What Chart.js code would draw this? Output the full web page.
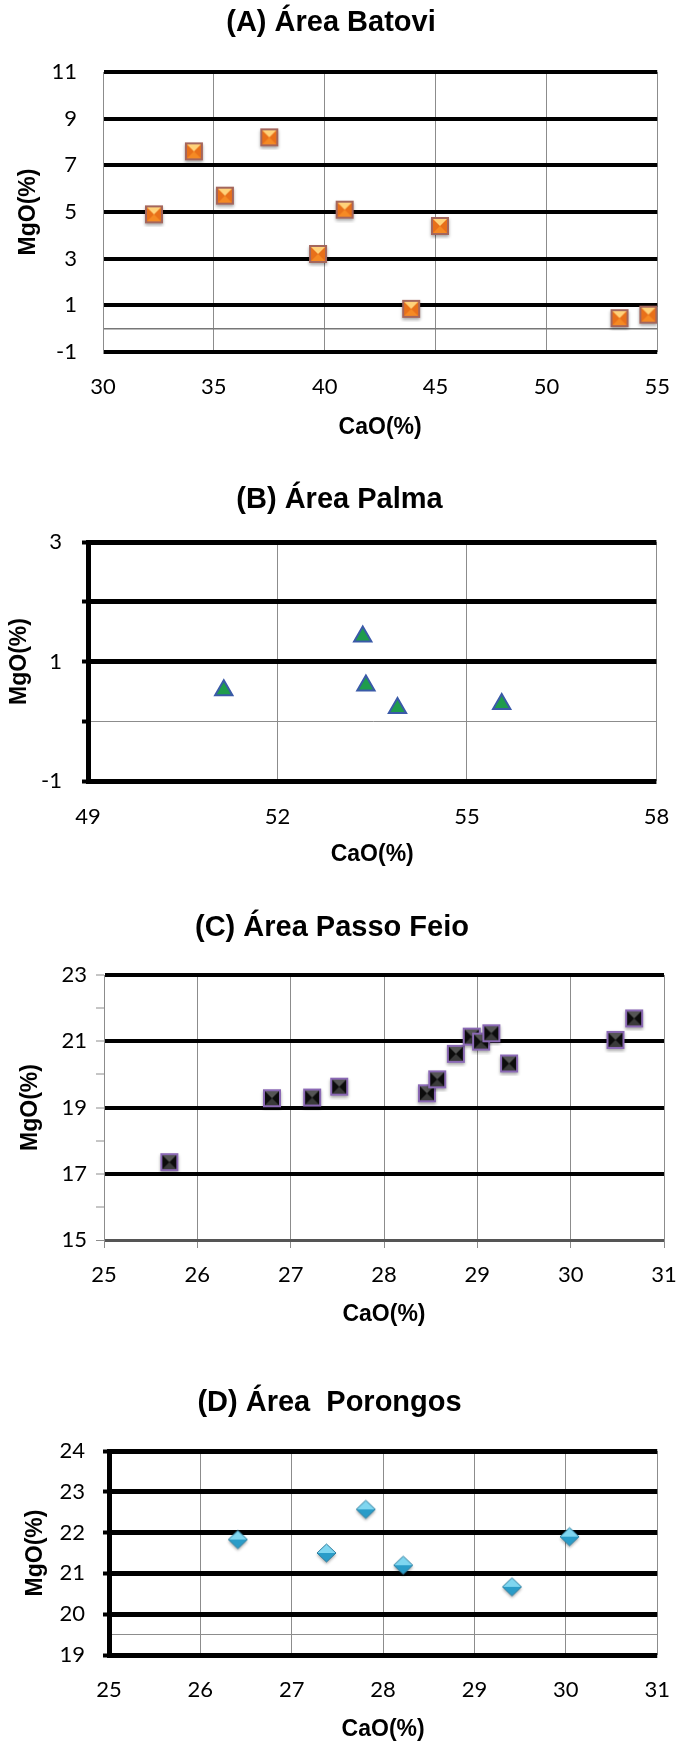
<!DOCTYPE html>
<html>
<head>
<meta charset="utf-8">
<script src="https://cdn.jsdelivr.net/npm/chart.js@4.4.0/dist/chart.umd.min.js"></script>
<style>
  body { margin: 0; background: #fff; width: 692px; height: 1747px; position: relative; overflow: hidden; }
  .box { position: absolute; left: 0; width: 692px; }
</style>
</head>
<body>
<div class="box" style="top:0;height:445px"><canvas id="chartA"></canvas></div>
<div class="box" style="top:445px;height:425px"><canvas id="chartB"></canvas></div>
<div class="box" style="top:870px;height:460px"><canvas id="chartC"></canvas></div>
<div class="box" style="top:1330px;height:417px"><canvas id="chartD"></canvas></div>
<script>
// (A) Área Batovi
const batoviCaO = [32.3, 34.1, 35.5, 37.5, 39.7, 40.9, 43.9, 45.2, 53.3, 54.6];
const batoviMgO = [4.9, 7.6, 5.7, 8.2, 3.2, 5.1, 0.85, 4.4, 0.45, 0.6];
const batoviXTicks = [30, 35, 40, 45, 50, 55];
const batoviYTicks = [-1, 0, 1, 3, 5, 7, 9, 11];
const batoviYLabels = [-1, 1, 3, 5, 7, 9, 11];

// (B) Área Palma
const palmaCaO = [51.15, 53.35, 53.4, 53.9, 55.55];
const palmaMgO = [0.52, 1.42, 0.6, 0.22, 0.29];
const palmaXTicks = [49, 52, 55, 58];
const palmaYTicks = [-1, 0, 1, 2, 3];
const palmaYLabels = [-1, 1, 3];

// (C) Área Passo Feio
const passoCaO = [25.7, 26.8, 27.23, 27.52, 28.46, 28.57, 28.77, 28.94, 29.04, 29.15, 29.34, 30.48, 30.68];
const passoMgO = [17.35, 19.28, 19.3, 19.63, 19.43, 19.85, 20.62, 21.14, 20.99, 21.24, 20.33, 21.04, 21.69];
const passoXTicks = [25, 26, 27, 28, 29, 30, 31];
const passoYTicks = [15, 16, 17, 18, 19, 20, 21, 22, 23];
const passoYLabels = [15, 17, 19, 21, 23];

// (D) Área Porongos
const porongosCaO = [26.41, 27.38, 27.81, 28.22, 29.41, 30.04];
const porongosMgO = [21.83, 21.5, 22.57, 21.2, 20.67, 21.9];
const porongosXTicks = [25, 26, 27, 28, 29, 30, 31];
const porongosYTicks = [19, 19.5, 20, 21, 22, 23, 24];
const porongosYLabels = [19, 20, 21, 22, 23, 24];

const FONT_TICK = { family: 'Lato, "Liberation Sans", sans-serif', size: 22 };
const FONT_AXIS = { family: '"Liberation Sans", Arial, sans-serif', size: 23, weight: 'bold' };
const FONT_TITLE = { family: '"Liberation Sans", Arial, sans-serif', size: 29, weight: 'bold' };
const GRAY = '#8c8c8c';
const PAD = 4; // room round each marker for its soft shadow

function shadowed(g) {
  g.shadowColor = 'rgba(0,0,0,0.35)';
  g.shadowBlur = 3;
  g.shadowOffsetY = 2;
}

// bevelled square marker like the Excel preset
function squareMarker(size, edge, top, side, bottom) {
  const c = document.createElement('canvas');
  c.width = c.height = size + 2 * PAD;
  const g = c.getContext('2d');
  g.translate(PAD, PAD);
  const b = 2, m = size / 2;
  g.save();
  shadowed(g);
  g.fillStyle = edge;
  g.fillRect(0, 0, size, size);
  g.restore();
  g.fillStyle = side;
  g.fillRect(b, b, size - 2 * b, size - 2 * b);
  g.fillStyle = top;
  g.beginPath(); g.moveTo(b, b); g.lineTo(size - b, b); g.lineTo(m, m); g.closePath(); g.fill();
  g.fillStyle = bottom;
  g.beginPath(); g.moveTo(b, size - b); g.lineTo(size - b, size - b); g.lineTo(m, m); g.closePath(); g.fill();
  return c;
}

function diamondMarker(w, h, edge, light, dark) {
  const c = document.createElement('canvas');
  c.width = w + 2 * PAD; c.height = h + 2 * PAD;
  const g = c.getContext('2d');
  g.translate(PAD, PAD);
  const grad = g.createLinearGradient(0, 0, 0, h);
  grad.addColorStop(0, light);
  grad.addColorStop(0.5, light);
  grad.addColorStop(0.5, dark);
  grad.addColorStop(1, dark);
  g.beginPath();
  g.moveTo(w / 2, 1); g.lineTo(w - 1, h / 2); g.lineTo(w / 2, h - 1); g.lineTo(1, h / 2); g.closePath();
  g.save();
  shadowed(g);
  g.fillStyle = grad; g.fill();
  g.restore();
  g.strokeStyle = edge; g.lineWidth = 1; g.stroke();
  return c;
}

function scatter(id, o) {
  return new Chart(document.getElementById(id), {
    type: 'scatter',
    data: {
      datasets: [{
        data: o.xs.map((x, i) => ({ x: x, y: o.ys[i] })),
        pointStyle: o.marker,
        pointRadius: o.radius,
        pointHoverRadius: o.radius,
        backgroundColor: o.fill || '#000',
        borderColor: o.border || '#000',
        borderWidth: o.bw || 0
      }]
    },
    options: {
      responsive: true,
      maintainAspectRatio: false,
      animation: false,
      events: [],
      layout: { autoPadding: false, padding: { left: 0, right: o.padRight, top: 0, bottom: 0 } },
      plugins: {
        legend: { display: false },
        tooltip: { enabled: false },
        title: {
          display: true, text: o.title, color: '#000', font: FONT_TITLE,
          padding: { top: o.titleTop, bottom: o.titleBottom }
        }
      },
      scales: {
        x: {
          type: 'linear', z: -1,
          min: o.xTicks[0], max: o.xTicks[o.xTicks.length - 1],
          afterBuildTicks: s => { s.ticks = o.xTicks.map(v => ({ value: v })); },
          afterFit: s => { s.height = o.xHeight; },
          border: { display: false },
          grid: { color: GRAY, lineWidth: 1, drawTicks: o.xTickLen > 0, tickLength: o.xTickLen, tickColor: GRAY },
          ticks: { font: FONT_TICK, color: '#000', padding: o.xLabelPad, maxRotation: 0, autoSkip: false },
          title: { display: true, text: 'CaO(%)', font: FONT_AXIS, color: '#000', padding: { top: 0, bottom: o.xTitlePad } }
        },
        y: {
          type: 'linear', z: 0,
          min: o.yTicks[0], max: o.yTicks[o.yTicks.length - 1],
          afterBuildTicks: s => { s.ticks = o.yTicks.map(v => ({ value: v })); },
          afterFit: s => { s.width = o.left; },
          border: { display: true, color: o.axisColor, width: o.axisWidth },
          grid: {
            color: c => o.gridColor(c.tick.value),
            lineWidth: c => o.gridWidth(c.tick.value),
            drawTicks: o.yTickLen > 0,
            tickLength: o.yTickLen,
            tickColor: c => o.tickColor(c.tick.value),
            tickWidth: o.tickWidth
          },
          ticks: {
            font: FONT_TICK, color: '#000', padding: o.yLabelPad, autoSkip: false,
            callback: v => o.yLabels.includes(v) ? String(v) : ''
          },
          title: { display: true, text: 'MgO(%)', font: FONT_AXIS, color: '#000', padding: { top: o.yTitlePad, bottom: 0 } }
        }
      }
    }
  });
}

scatter('chartA', {
  title: '(A) Área Batovi', titleTop: 5.6, titleBottom: 31.6,
  xs: batoviCaO, ys: batoviMgO, xTicks: batoviXTicks, yTicks: batoviYTicks, yLabels: batoviYLabels,
  marker: squareMarker(18, '#a4665c', '#ffd27a', '#e8701a', '#f58a24'), radius: 9,
  left: 103, padRight: 30, xHeight: 93, xTickLen: 0, xLabelPad: 22, xTitlePad: 3.2,
  yTickLen: 0, yLabelPad: 26, tickWidth: 1, yTitlePad: 15.2,
  axisColor: GRAY, axisWidth: 1,
  gridColor: v => v === 0 ? '#777' : '#000',
  gridWidth: v => v === 0 ? 1.5 : 4,
  tickColor: () => GRAY
});

scatter('chartB', {
  title: '(B) Área Palma', titleTop: 37.6, titleBottom: 24.6,
  xs: palmaCaO, ys: palmaMgO, xTicks: palmaXTicks, yTicks: palmaYTicks, yLabels: palmaYLabels,
  marker: 'triangle', radius: 10, fill: '#1f9c4c', border: '#3a5aa8', bw: 2,
  left: 88, padRight: 13, xHeight: 89, xTickLen: 0, xLabelPad: 22.8, xTitlePad: 1.2,
  yTickLen: 6, yLabelPad: 20, tickWidth: 4, yTitlePad: 6.2,
  axisColor: '#000', axisWidth: 5,
  gridColor: v => v === 0 ? GRAY : '#000',
  gridWidth: v => v === 0 ? 1 : 5,
  tickColor: () => '#000'
});

scatter('chartC', {
  title: '(C) Área Passo Feio', titleTop: 40.6, titleBottom: 29.6,
  xs: passoCaO, ys: passoMgO, xTicks: passoXTicks, yTicks: passoYTicks, yLabels: passoYLabels,
  marker: squareMarker(18, '#8a68b4', '#555', '#0c0c0c', '#3a3a3a'), radius: 9,
  left: 104, padRight: 28, xHeight: 90, xTickLen: 8, xLabelPad: 14, xTitlePad: 1.2,
  yTickLen: 8, yLabelPad: 9, tickWidth: 1, yTitlePad: 17.2,
  axisColor: GRAY, axisWidth: 1,
  gridColor: v => v === 15 ? '#555' : (v % 2 === 1 ? '#000' : 'rgba(0,0,0,0)'),
  gridWidth: v => v === 15 ? 3 : (v % 2 === 1 ? 4 : 0),
  tickColor: () => GRAY
});

scatter('chartD', {
  title: '(D) Área  Porongos', titleTop: 55.6, titleBottom: 30.6,
  xs: porongosCaO, ys: porongosMgO, xTicks: porongosXTicks, yTicks: porongosYTicks, yLabels: porongosYLabels,
  marker: diamondMarker(21, 20, '#2f7fa0', '#7fd6f0', '#2a9cc8'), radius: 10,
  left: 109, padRight: 33, xHeight: 92, xTickLen: 0, xLabelPad: 22, xTitlePad: 3.2,
  yTickLen: 6, yLabelPad: 18, tickWidth: 4, yTitlePad: 22.2,
  axisColor: '#000', axisWidth: 5,
  gridColor: v => v === 19.5 ? GRAY : '#000',
  gridWidth: v => v === 19.5 ? 1 : 5,
  tickColor: v => v === 19.5 ? 'rgba(0,0,0,0)' : '#000'
});
</script>
</body>
</html>
